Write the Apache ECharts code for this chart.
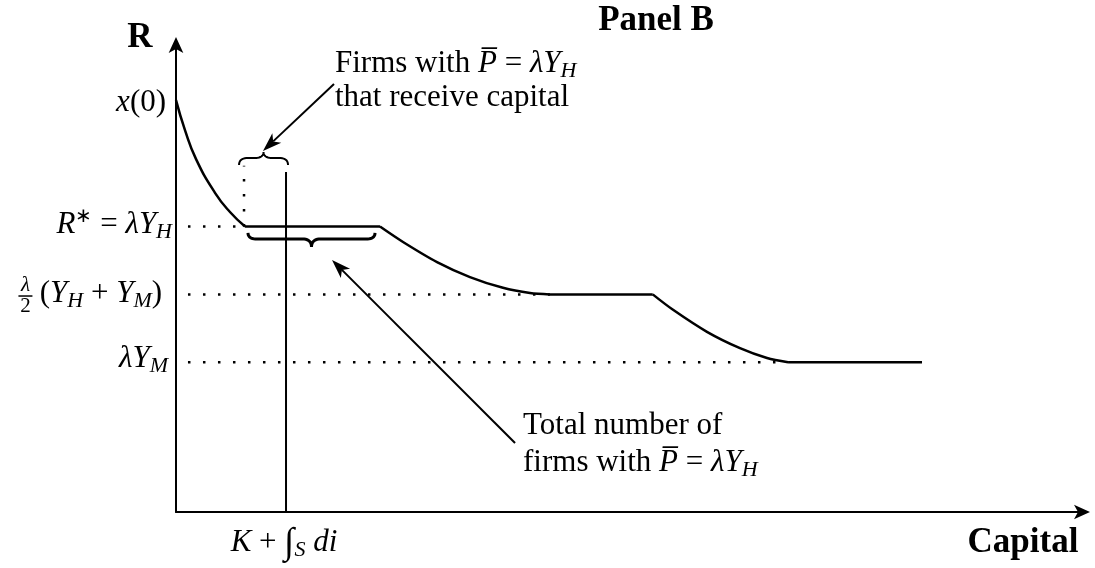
<!DOCTYPE html>
<html>
<head>
<meta charset="utf-8">
<script src="https://cdn.jsdelivr.net/npm/echarts@6/dist/echarts.min.js"></script>
<style>html,body{margin:0;padding:0;background:#fff}#c{width:1095px;height:568px}</style>
</head>
<body>
<div id="c"></div>
<script>
// ---- data (axis units: 0..100 on both axes) ----
const rStar = 61.0;   // R* = λY_H
const rMid = 46.5;    // λ/2 (Y_H + Y_M)
const rLow = 32.0;    // λY_M
const seg1 = [[0, 88.0], [0.99, 81.6], [2.21, 75.4], [4.30, 68.2], [5.95, 64.1], [7.61, 61.0]];
const flat1 = [[7.61, 61.0], [22.49, 61.0]];
const seg2 = [[22.49, 61.0], [25.03, 57.7], [28.78, 53.4], [32.41, 50.2], [36.05, 47.9], [39.03, 46.8], [41.23, 46.5]];
const flat2 = [[41.23, 46.5], [52.56, 46.5]];
const seg3 = [[52.56, 46.5], [54.80, 43.2], [58.54, 38.5], [62.18, 35.0], [65.16, 32.9], [67.48, 32.0]];
const flat3 = [[67.48, 32.0], [82.25, 32.0]];
const dotH1 = [[1.32, rStar], [7.61, rStar]];
const dotH2 = [[1.32, rMid], [41.23, rMid]];
const dotH3 = [[1.32, rLow], [67.48, rLow]];
const dotV = [[7.5, rStar], [7.5, 74.0]];
const capitalMark = [[12.13, 0], [12.13, 72.65]];
// braces: [xLeft, xRight, yEnds, yBody, yTip]
const braces = [[6.95, 12.35, 74.15, 75.64, 76.92], [7.94, 21.94, 59.62, 58.33, 56.62]];
// arrows: [xTail, yTail, xTip, yTip]
const arrows = [[17.42, 91.45, 9.59, 77.14], [37.38, 14.74, 17.20, 53.85]];

// ---- texts ----
const FONT = 'Liberation Serif';
const txtX0 = '{i|x}{n|(0)}';
const txtRstar = '{i|R}{sp|∗}{n| = }{i|λY}{sb|H}';
const txtMid = '{n|(}{i|Y}{sb|H}{n| + }{i|Y}{sb|M}{n|)}';
const txtFrac = '{f|λ}\n{bar| }\n{fn|2}';
const txtLow = '{i|λY}{sb|M}';
const txtK = '{i|K}{n| + }{int|∫}{sb|S}{i| di}';
const txtCap = '{b|Capital}';
const txtR = '{b|R}';
const txtPanel = '{b|Panel B}';
const txtA1 = '{n|Firms with }{i|P\u0305}{n| = }{i|λY}{sb|H}';
const txtA2 = '{n|that receive capital}';
const txtB1 = '{n|Total number of}';
const txtB2 = '{n|firms with }{i|P\u0305}{n| = }{i|λY}{sb|H}';

const RICH = {
  n: {fontFamily: FONT, fontSize: 31, lineHeight: 37, color: '#000'},
  i: {fontFamily: FONT, fontSize: 31, fontStyle: 'italic', lineHeight: 37, color: '#000'},
  sb: {fontFamily: FONT, fontSize: 22, fontStyle: 'italic', lineHeight: 22, verticalAlign: 'bottom', color: '#000'},
  sp: {fontFamily: FONT, fontSize: 20, lineHeight: 14, verticalAlign: 'top', color: '#000'},
  int: {fontFamily: FONT, fontSize: 37, fontStyle: 'italic', lineHeight: 37, color: '#000'},
  b: {fontFamily: FONT, fontSize: 35, fontWeight: 'bold', lineHeight: 40, color: '#000'},
  f: {fontFamily: FONT, fontSize: 21, fontStyle: 'italic', lineHeight: 18, align: 'center', color: '#000'},
  fn: {fontFamily: FONT, fontSize: 21, lineHeight: 18, align: 'center', color: '#000'},
  bar: {fontSize: 1, width: 14, height: 1.5, lineHeight: 3, backgroundColor: '#000', align: 'center'}
};

// text anchors [x, y, formatter, align]
const texts = [
  [-1.10, 87.39, txtX0, 'right'],
  [-0.44, 61.32, txtRstar, 'right'],
  [-1.54, 46.58, txtMid, 'right'],
  [-16.6, 46.15, txtFrac, 'center'],
  [-0.88, 32.69, txtLow, 'right'],
  [11.91, -6.62, txtK, 'center'],
  [93.38, -6.62, txtCap, 'center'],
  [-3.97, 101.2, txtR, 'center'],
  [52.92, 105.0, txtPanel, 'center'],
  [17.53, 95.73, txtA1, 'left'],
  [17.53, 88.46, txtA2, 'left'],
  [38.26, 18.38, txtB1, 'left'],
  [38.26, 10.47, txtB2, 'left']
];

function quad(pts, p0, c, p1) {
  const n = 10;
  for (let k = 0; k <= n; k++) {
    const t = k / n, a = (1 - t) * (1 - t), b = 2 * (1 - t) * t, d = t * t;
    pts.push([a * p0[0] + b * c[0] + d * p1[0], a * p0[1] + b * c[1] + d * p1[1]]);
  }
}
const braceWidths = [2, 3];
function braceItem(params, api) {
  const a = api.coord([api.value(0), api.value(2)]);
  const b = api.coord([api.value(1), api.value(3)]);
  const t = api.coord([api.value(0), api.value(4)]);
  const xl = a[0], yE = a[1], xr = b[0], yB = b[1], yT = t[1];
  const xm = (xl + xr) / 2, r = Math.min(9, (xr - xl) / 5);
  const pts = [];
  quad(pts, [xl, yE], [xl, yB], [xl + r, yB]);
  quad(pts, [xm - r, yB], [xm, yB], [xm, yT]);
  quad(pts, [xm, yT], [xm, yB], [xm + r, yB]);
  quad(pts, [xr - r, yB], [xr, yB], [xr, yE]);
  return {type: 'polyline', shape: {points: pts},
    style: {stroke: '#000', lineWidth: braceWidths[params.dataIndex], fill: null}};
}
function arrowItem(params, api) {
  const p1 = api.coord([api.value(0), api.value(1)]);
  const p2 = api.coord([api.value(2), api.value(3)]);
  const dx = p2[0] - p1[0], dy = p2[1] - p1[1], len = Math.hypot(dx, dy);
  const ux = dx / len, uy = dy / len, nx = -uy, ny = ux;
  const L = 19, W = 6.5, N = 5;
  const base = [p2[0] - L * ux, p2[1] - L * uy];
  const notch = [p2[0] - (L - N) * ux, p2[1] - (L - N) * uy];
  return {type: 'group', children: [
    {type: 'line', shape: {x1: p1[0], y1: p1[1], x2: notch[0], y2: notch[1]}, style: {stroke: '#000', lineWidth: 2}},
    {type: 'polygon', shape: {points: [p2, [base[0] + W * nx, base[1] + W * ny], notch, [base[0] - W * nx, base[1] - W * ny]]},
      style: {fill: '#000'}}
  ]};
}

function lineSeries(data, opts) {
  return Object.assign({
    type: 'line', data: data, symbol: 'none', silent: true, clip: false, animation: false,
    lineStyle: {color: '#000', width: 2.5}
  }, opts || {});
}
const dotted = {lineStyle: {color: '#000', width: 2.5, type: [2.5, 12.5]}};

const chart = echarts.init(document.getElementById('c'), null, {renderer: 'canvas'});
const axisCommon = {
  type: 'value', min: 0, max: 100,
  axisLabel: {show: false}, axisTick: {show: false}, splitLine: {show: false},
  axisLine: {show: true, symbol: ['none', 'arrow'], symbolSize: [11, 16], symbolOffset: [0, 7],
    lineStyle: {color: '#000', width: 2}}
};
chart.setOption({
  animation: false,
  backgroundColor: '#fff',
  grid: {left: 176, right: 12, top: 44, bottom: 56},
  xAxis: axisCommon,
  yAxis: axisCommon,
  series: [
    lineSeries(dotH1, dotted),
    lineSeries(dotH2, dotted),
    lineSeries(dotH3, dotted),
    lineSeries(dotV, dotted),
    lineSeries(seg1, {smooth: 0.5}),
    lineSeries(flat1),
    lineSeries(seg2, {smooth: 0.3}),
    lineSeries(flat2),
    lineSeries(seg3, {smooth: 0.3}),
    lineSeries(flat3),
    lineSeries(capitalMark, {lineStyle: {color: '#000', width: 2}}),
    {type: 'custom', renderItem: braceItem, data: braces, clip: false, silent: true, encode: {x: [0, 1], y: [2, 3, 4]}},
    {type: 'custom', renderItem: arrowItem, data: arrows, clip: false, silent: true, encode: {x: [0, 2], y: [1, 3]}},
    {
      type: 'scatter', symbolSize: 0, clip: false, silent: true,
      itemStyle: {opacity: 1, color: '#000'},
      emphasis: {disabled: true},
      label: {show: true, position: 'inside', color: '#000', opacity: 1, textBorderWidth: 0, rich: RICH},
      data: texts.map(t => ({value: [t[0], t[1]], label: {formatter: t[2], align: t[3], verticalAlign: 'middle'}}))
    }
  ]
});
</script>
</body>
</html>
